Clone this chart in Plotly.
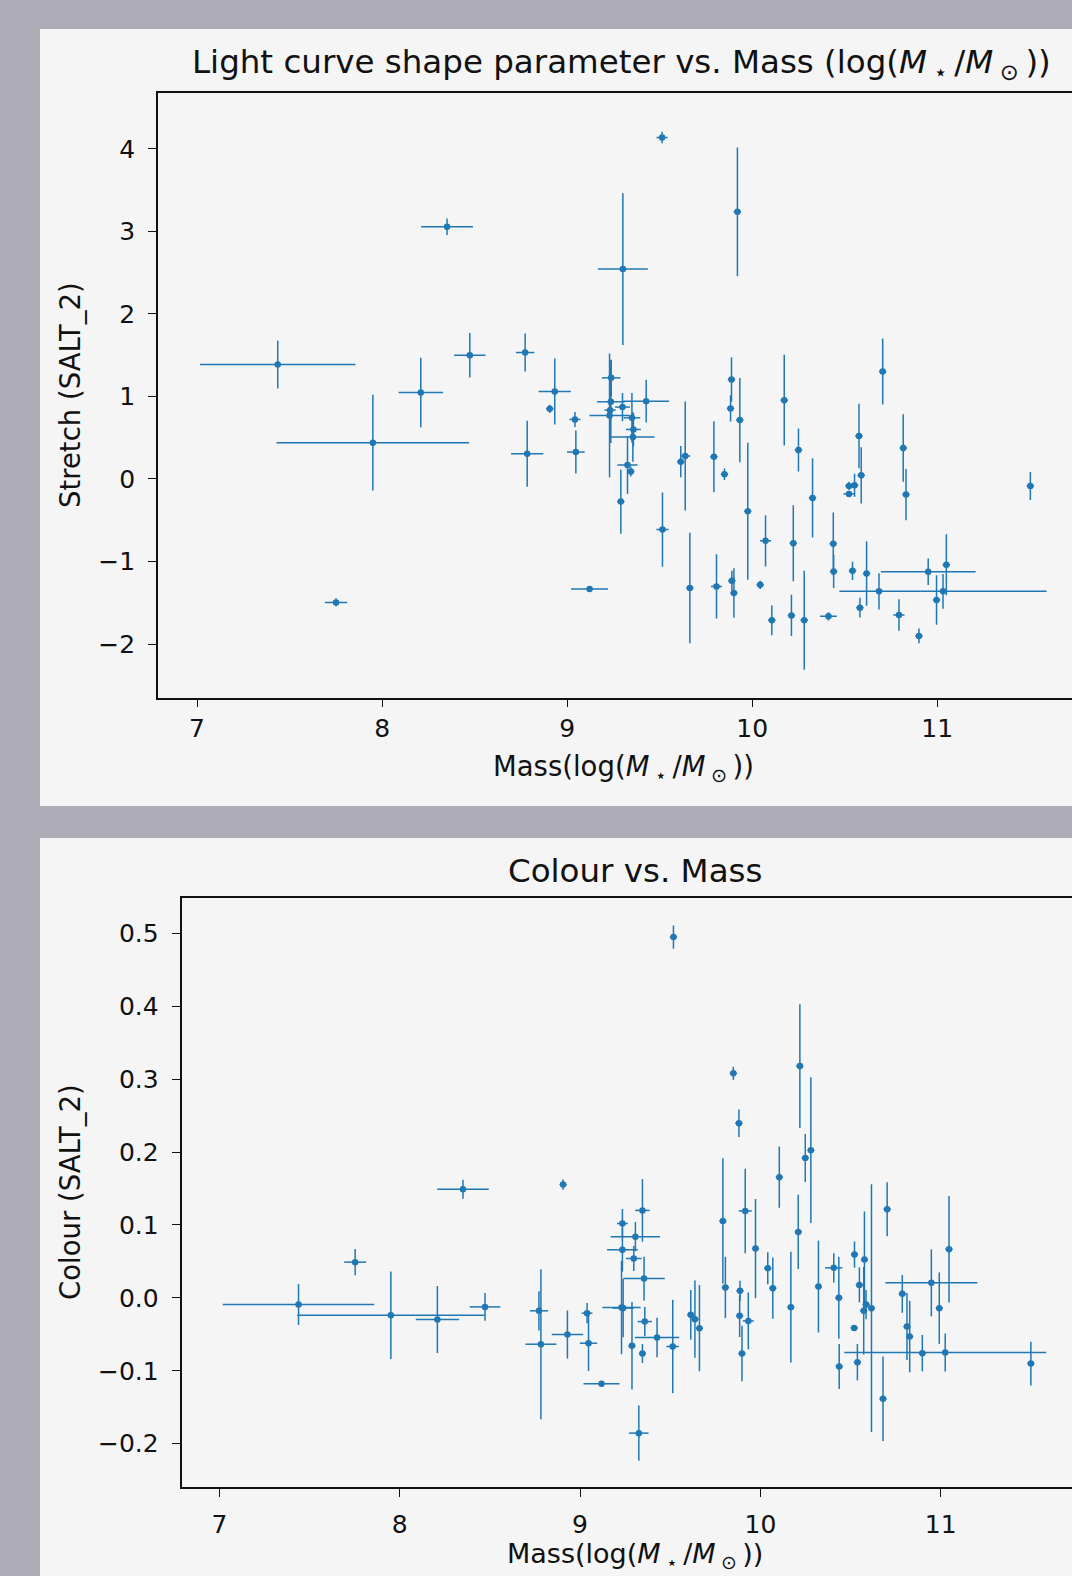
import plotly.graph_objects as go

# ---------------- data (top: stretch vs mass) ----------------
mass_top = [7.436, 7.950, 7.751, 8.209, 8.351, 8.474, 8.773, 8.784, 8.933, 8.906,
            9.042, 9.047, 9.121, 9.238, 9.236, 9.427, 9.299, 9.232, 9.229, 9.350,
            9.358, 9.355, 9.326, 9.344, 9.290, 9.301, 9.513, 9.920, 9.515, 9.614,
            9.638, 9.663, 9.793, 9.807, 9.850, 9.888, 9.883, 9.890, 9.901, 9.933,
            9.976, 10.043, 10.072, 10.106, 10.173, 10.212, 10.222, 10.250, 10.281, 10.326,
            10.412, 10.438, 10.440, 10.523, 10.553, 10.523, 10.577, 10.589, 10.542, 10.582,
            10.618, 10.685, 11.031, 10.951, 10.705, 10.793, 10.816, 10.831, 10.901, 10.996,
            11.049, 11.503]
mass_err_top = [0.42, 0.52, 0.06, 0.12, 0.14, 0.085, 0.05, 0.087, 0.087, 0.02,
                0.03, 0.048, 0.10, 0.05, 0.075, 0.124, 0.04, 0.03, 0.108, 0.045,
                0.04, 0.117, 0.054, 0.02, 0.02, 0.135, 0.03, 0.02, 0.033, 0.02,
                0.027, 0.02, 0.02, 0.03, 0.02, 0.02, 0.02, 0.02, 0.02, 0.02,
                0.02, 0.02, 0.03, 0.02, 0.02, 0.02, 0.02, 0.02, 0.02, 0.02,
                0.045, 0.02, 0.02, 0.02, 0.02, 0.03, 0.02, 0.02, 0.02, 0.02,
                0.02, 0.02, 0.56, 0.256, 0.02, 0.03, 0.02, 0.02, 0.02, 0.02,
                0.02, 0.02]
stretch = [1.387, 0.439, -1.496, 1.048, 3.055, 1.499, 1.532, 0.306, 1.060, 0.850,
           0.721, 0.326, -1.334, 1.225, 0.935, 0.943, 0.871, 0.834, 0.770, 0.741,
           0.600, 0.508, 0.169, 0.089, -0.274, 2.543, 4.138, 3.237, -0.613, 0.210,
           0.278, -1.322, 0.270, -1.302, 0.057, 1.205, 0.855, -1.233, -1.383, 0.714,
           -0.391, -1.282, -0.750, -1.713, 0.955, -1.653, -0.778, 0.351, -1.713, -0.230,
           -1.665, -0.786, -1.120, -0.085, -0.077, -0.181, 0.520, 0.044, -1.113, -1.560,
           -1.145, -1.362, -1.362, -1.125, 1.302, -1.649, 0.375, -0.189, -1.902, -1.467,
           -1.040, -0.085]
stretch_err = [0.29, 0.58, 0.05, 0.42, 0.10, 0.27, 0.23, 0.40, 0.40, 0.05,
               0.09, 0.26, 0.03, 0.22, 0.50, 0.26, 0.17, 0.20, 0.75, 0.30,
               0.20, 0.30, 0.35, 0.06, 0.39, 0.92, 0.07, 0.78, 0.45, 0.19,
               0.66, 0.67, 0.43, 0.39, 0.07, 0.27, 0.16, 0.12, 0.30, 0.51,
               0.83, 0.05, 0.31, 0.18, 0.55, 0.25, 0.46, 0.26, 0.60, 0.48,
               0.05, 0.38, 0.20, 0.05, 0.14, 0.03, 0.39, 0.34, 0.11, 0.12,
               0.39, 0.22, 0.21, 0.16, 0.40, 0.19, 0.41, 0.31, 0.09, 0.30,
               0.37, 0.17]

# ---------------- data (bottom: colour vs mass) ----------------
mass_bot = [7.439, 7.753, 7.951, 8.209, 8.351, 8.473, 8.772, 8.783, 8.906, 8.930,
            9.039, 9.047, 9.119, 9.235, 9.235, 9.307, 9.346, 9.298, 9.355, 9.230,
            9.239, 9.359, 9.288, 9.346, 9.427, 9.514, 9.326, 9.614, 9.637, 9.662,
            9.792, 9.806, 9.850, 9.881, 9.887, 9.885, 9.898, 9.916, 9.933, 9.973,
            10.041, 10.069, 10.105, 10.169, 10.210, 10.219, 10.249, 10.280, 10.322, 10.407,
            10.435, 10.437, 10.522, 10.520, 10.538, 10.549, 10.577, 10.573, 10.586, 10.616,
            10.680, 10.703, 10.787, 10.813, 10.828, 10.898, 10.948, 10.992, 11.025, 11.046,
            11.500, 9.518]
mass_err_bot = [0.42, 0.061, 0.52, 0.12, 0.143, 0.085, 0.05, 0.086, 0.02, 0.087,
                0.03, 0.048, 0.10, 0.03, 0.085, 0.137, 0.04, 0.043, 0.115, 0.106,
                0.058, 0.04, 0.02, 0.02, 0.123, 0.035, 0.054, 0.02, 0.02, 0.02,
                0.02, 0.02, 0.02, 0.02, 0.02, 0.02, 0.02, 0.036, 0.03, 0.02,
                0.02, 0.02, 0.02, 0.02, 0.02, 0.02, 0.02, 0.02, 0.02, 0.048,
                0.02, 0.02, 0.02, 0.02, 0.02, 0.02, 0.02, 0.02, 0.02, 0.02,
                0.02, 0.02, 0.02, 0.02, 0.02, 0.02, 0.255, 0.02, 0.56, 0.02,
                0.02, 0.02]
colour = [-0.0092, 0.049, -0.0238, -0.0297, 0.149, -0.0124, -0.0178, -0.0636, 0.1555, -0.0503,
          -0.021, -0.0622, -0.118, 0.102, 0.066, 0.084, 0.120, 0.054, 0.0265, -0.0133,
          -0.014, -0.0325, -0.0658, -0.0764, -0.0544, -0.0667, -0.1856, -0.0233, -0.0292, -0.0416,
          0.1056, 0.0142, 0.308, 0.2396, 0.0096, -0.0247, -0.0764, 0.1193, -0.0316, 0.0676,
          0.0407, 0.0133, 0.1656, -0.0128, 0.0905, 0.318, 0.192, 0.2026, 0.0155, 0.0412,
          0.000, -0.0942, 0.0594, -0.0412, -0.0882, 0.0178, 0.0525, -0.0178, -0.0092, -0.0141,
          -0.1385, 0.1217, 0.0055, -0.0394, -0.0531, -0.0759, 0.0206, -0.0141, -0.075, 0.0668,
          -0.0901, 0.495]
colour_err = [0.028, 0.018, 0.06, 0.046, 0.013, 0.019, 0.027, 0.103, 0.007, 0.033,
              0.014, 0.038, 0.004, 0.02, 0.03, 0.02, 0.043, 0.017, 0.03, 0.064,
              0.04, 0.02, 0.06, 0.013, 0.027, 0.064, 0.038, 0.034, 0.053, 0.059,
              0.086, 0.042, 0.009, 0.019, 0.014, 0.029, 0.038, 0.058, 0.039, 0.068,
              0.022, 0.042, 0.042, 0.076, 0.051, 0.085, 0.033, 0.10, 0.063, 0.02,
              0.056, 0.031, 0.018, 0.004, 0.025, 0.024, 0.066, 0.06, 0.02, 0.17,
              0.058, 0.037, 0.026, 0.046, 0.049, 0.025, 0.046, 0.049, 0.026, 0.073,
              0.03, 0.016]

top_yticks = [-2, -1, 0, 1, 2, 3, 4]
top_yticktext = ["\u22122", "\u22121", "0", "1", "2", "3", "4"]
bot_yticks = [-0.2, -0.1, 0.0, 0.1, 0.2, 0.3, 0.4, 0.5]
bot_yticktext = ["\u22120.2", "\u22120.1", "0.0", "0.1", "0.2", "0.3", "0.4", "0.5"]
xticks = [7, 8, 9, 10, 11]

W, H = 1072, 1576
BLUE = "#1f77b4"
BG = "#adabb5"
PANEL = "#f5f5f5"
FONT = "DejaVu Sans"


def px_x(p):
    return p / W


def px_y(p):
    return 1 - p / H


fig = go.Figure()

err_style = dict(type="data", visible=True, thickness=1.5, width=0, color=BLUE)

fig.add_trace(go.Scatter(
    x=mass_top, y=stretch, mode="markers",
    marker=dict(color=BLUE, size=6.5),
    error_x=dict(array=mass_err_top, **err_style),
    error_y=dict(array=stretch_err, **err_style),
    xaxis="x", yaxis="y", showlegend=False, hoverinfo="skip"))

fig.add_trace(go.Scatter(
    x=mass_bot, y=colour, mode="markers",
    marker=dict(color=BLUE, size=6.5),
    error_x=dict(array=mass_err_bot, **err_style),
    error_y=dict(array=colour_err, **err_style),
    xaxis="x2", yaxis="y2", showlegend=False, hoverinfo="skip"))

axis_common = dict(
    showline=True, linecolor="#111111", linewidth=1.6,
    ticks="outside", ticklen=8, tickwidth=1.4, tickcolor="#111111",
    showgrid=False, zeroline=False,
    tickfont=dict(family=FONT, size=25, color="#111111"),
    fixedrange=True,
)

SP = "\u2009"
mass_math = ("log(<i>M</i>" + SP + "<sub>\u22c6</sub>" + SP + "/<i>M</i>" + SP
             + "<sub>\u2299</sub>" + SP + ")")
mass_label = "Mass(" + mass_math + ")"

fig.update_layout(
    width=W, height=H,
    margin=dict(l=0, r=0, t=0, b=0),
    paper_bgcolor=BG, plot_bgcolor=PANEL,
    font=dict(family=FONT, color="#111111"),
    xaxis=dict(domain=[px_x(158), 1.0], range=[6.789, 11.728], tickvals=xticks,
               anchor="y", mirror=True, ticklabelstandoff=0, **axis_common),
    yaxis=dict(domain=[px_y(697.5), px_y(93.3)], range=[-2.648, 4.673],
               tickvals=top_yticks, ticktext=top_yticktext, anchor="x",
               ticklabelstandoff=8, **axis_common),
    xaxis2=dict(domain=[px_x(181.5), 1.0], range=[6.79, 11.728], tickvals=xticks,
                anchor="y2", mirror=True, ticklabelstandoff=6, **axis_common),
    yaxis2=dict(domain=[px_y(1487), px_y(897.5)], range=[-0.2595, 0.5493],
                tickvals=bot_yticks, ticktext=bot_yticktext, anchor="x2",
                ticklabelstandoff=8, **axis_common),
)

# white panels
fig.add_shape(type="rect", xref="paper", yref="paper", layer="below",
              x0=px_x(40), x1=1.02, y0=px_y(806), y1=px_y(29),
              fillcolor=PANEL, line=dict(width=0))
fig.add_shape(type="rect", xref="paper", yref="paper", layer="below",
              x0=px_x(40), x1=1.02, y0=-0.02, y1=px_y(838),
              fillcolor=PANEL, line=dict(width=0))

ann = []
ann.append(dict(text="Light curve shape parameter vs. Mass (" + mass_math + ")",
                x=px_x(621), y=px_y(64), font=dict(size=32.5)))
ann.append(dict(text=mass_label, x=px_x(623), y=px_y(768), font=dict(size=27.5)))
ann.append(dict(text="Stretch (SALT_2)", x=px_x(70), y=px_y(395), textangle=-90,
                font=dict(size=27.5)))
ann.append(dict(text="Colour vs. Mass", x=px_x(635), y=px_y(871), font=dict(size=32.5)))
ann.append(dict(text=mass_label, x=px_x(635), y=px_y(1555), font=dict(size=27)))
ann.append(dict(text="Colour (SALT_2)", x=px_x(70), y=px_y(1192), textangle=-90,
                font=dict(size=27.5)))
for a in ann:
    a.update(xref="paper", yref="paper", showarrow=False, xanchor="center",
             yanchor="middle")
    a["font"].update(family=FONT, color="#111111")
    fig.add_annotation(**a)

fig.write_html("out.html")
